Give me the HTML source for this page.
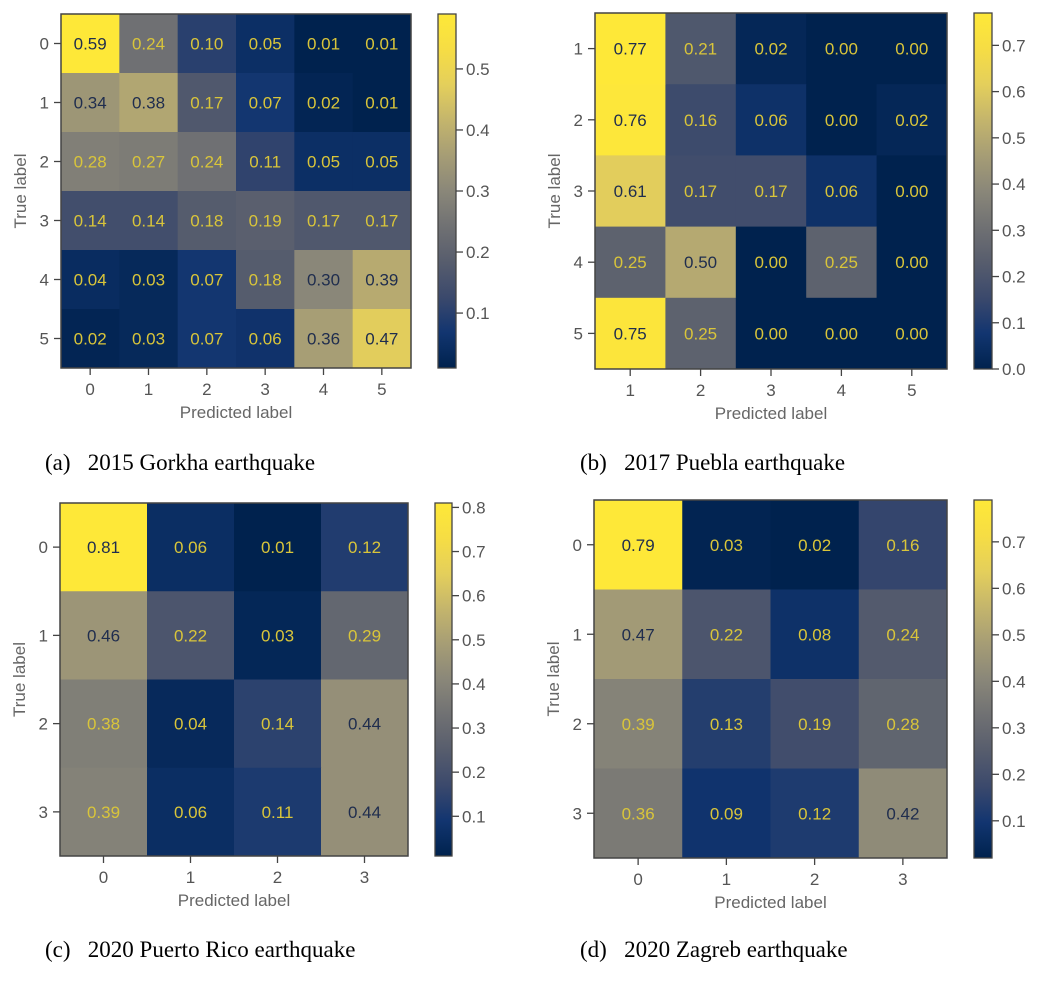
<!DOCTYPE html>
<html><head><meta charset="utf-8">
<style>
body{margin:0;background:#fff;width:1041px;height:976px;overflow:hidden}
svg text{font-family:"Liberation Sans",sans-serif}
.cap{font-family:"Liberation Serif",serif;font-size:23px;fill:#000}
</style></head>
<body>
<svg id="fig" width="1041" height="976" xmlns="http://www.w3.org/2000/svg"></svg>
<script>
// Data arrays
const gorkhaLabels = ["0","1","2","3","4","5"];
const gorkhaValues = [
 [0.59,0.24,0.10,0.05,0.01,0.01],
 [0.34,0.38,0.17,0.07,0.02,0.01],
 [0.28,0.27,0.24,0.11,0.05,0.05],
 [0.14,0.14,0.18,0.19,0.17,0.17],
 [0.04,0.03,0.07,0.18,0.30,0.39],
 [0.02,0.03,0.07,0.06,0.36,0.47]];
const gorkhaTicks = [0.1,0.2,0.3,0.4,0.5];

const pueblaLabels = ["1","2","3","4","5"];
const pueblaValues = [
 [0.77,0.21,0.02,0.00,0.00],
 [0.76,0.16,0.06,0.00,0.02],
 [0.61,0.17,0.17,0.06,0.00],
 [0.25,0.50,0.00,0.25,0.00],
 [0.75,0.25,0.00,0.00,0.00]];
const pueblaTicks = [0.0,0.1,0.2,0.3,0.4,0.5,0.6,0.7];

const puertoLabels = ["0","1","2","3"];
const puertoValues = [
 [0.81,0.06,0.01,0.12],
 [0.46,0.22,0.03,0.29],
 [0.38,0.04,0.14,0.44],
 [0.39,0.06,0.11,0.44]];
const puertoTicks = [0.1,0.2,0.3,0.4,0.5,0.6,0.7,0.8];

const zagrebLabels = ["0","1","2","3"];
const zagrebValues = [
 [0.79,0.03,0.02,0.16],
 [0.47,0.22,0.08,0.24],
 [0.39,0.13,0.19,0.28],
 [0.36,0.09,0.12,0.42]];
const zagrebTicks = [0.1,0.2,0.3,0.4,0.5,0.6,0.7];

const NS="http://www.w3.org/2000/svg";
const svg=document.getElementById('fig');
const stops=["#00224e","#123570","#3b496c","#575d6d","#707173","#8a8779","#a69d75","#c4b56c","#e4cf5b","#f6dd44","#fee838"];
function hx(c){return [1,3,5].map(i=>parseInt(c.substr(i,2),16));}
function cividis(t){t=Math.max(0,Math.min(1,t));const p=t*10,i=Math.min(9,Math.floor(p)),f=p-i;
 const a=hx(stops[i]),b=hx(stops[i+1]);return "rgb("+a.map((v,k)=>Math.round(v+(b[k]-v)*f)).join(",")+")";}
function el(tag,attrs,parent){const e=document.createElementNS(NS,tag);for(const k in attrs)e.setAttribute(k,attrs[k]);(parent||svg).appendChild(e);return e;}

function panel(id,labels,vals,ticks,L,T,R,B,cbL,cbR,capX,capY,cap){
 const g=el('g',{});
 
 
 const n=labels.length;
 const flat=vals.flat();const vmin=Math.min(...flat),vmax=Math.max(...flat);const th=(vmin+vmax)/2;
 const cw=(R-L)/n,ch=(B-T)/n;
 const xS=j=>L+cw*(j+0.5), yS=i=>T+ch*(i+0.5);
 const norm=v=>(v-vmin)/(vmax-vmin);
 for(let i=0;i<n;i++)for(let j=0;j<n;j++){
  const v=vals[i][j];
  const r=el('rect',{x:xS(j)-cw/2,y:yS(i)-ch/2,width:cw+0.5,height:ch+0.5,fill:cividis(norm(v))},g);
  
  
  const t=el('text',{x:xS(j),y:yS(i)+6,'text-anchor':'middle','font-size':'17',fill:v>=th?'#1f2d4e':'#d9c53a'},g);
  
  
  t.textContent=v.toFixed(2);
 }
 const fr=el('rect',{x:L,y:T,width:R-L,height:B-T,fill:'none',stroke:'#444','stroke-width':1.5},g);
 
 
 for(let k=0;k<n;k++){
  el('line',{x1:xS(k),x2:xS(k),y1:B,y2:B+7,stroke:'#444','stroke-width':1.3},g);
  const tx=el('text',{x:xS(k),y:B+27,'text-anchor':'middle','font-size':'17',fill:'#555'},g);
  
  
  tx.textContent=labels[k];
  el('line',{x1:L-7,x2:L,y1:yS(k),y2:yS(k),stroke:'#444','stroke-width':1.3},g);
  const ty=el('text',{x:L-12,y:yS(k)+6,'text-anchor':'end','font-size':'17',fill:'#555'},g);
  
  
  ty.textContent=labels[k];
 }
 const xl=el('text',{x:(L+R)/2,y:B+50,'text-anchor':'middle','font-size':'17',fill:'#666'},g);
 
 
 xl.textContent='Predicted label';
 const yl=el('text',{x:0,y:0,'text-anchor':'middle','font-size':'17',fill:'#666',transform:'translate('+(L-35)+','+((T+B)/2)+') rotate(-90)'},g);
 
 
 yl.textContent='True label';
 const gid='grad-'+id;
 const defs=el('defs',{},g);
 const lg=el('linearGradient',{id:gid,x1:0,y1:1,x2:0,y2:0},defs);
 for(let s=0;s<=20;s++)el('stop',{offset:s/20,'stop-color':cividis(s/20)},lg);
 const cb=el('rect',{x:cbL,y:T,width:cbR-cbL,height:B-T,fill:'url(#'+gid+')',stroke:'#444','stroke-width':1.3},g);
 
 
 const cy=v=>B-(v-vmin)/(vmax-vmin)*(B-T);
 ticks.forEach(v=>{
  el('line',{x1:cbR,x2:cbR+7,y1:cy(v),y2:cy(v),stroke:'#444','stroke-width':1.3},g);
  const t=el('text',{x:cbR+10,y:cy(v)+6,'font-size':'17',fill:'#555'},g);
  
  
  t.textContent=v.toFixed(1);
 });
 const c=el('text',{x:capX,y:capY,class:'cap'},g);
 
 
 c.textContent=cap;
}
panel('gorkha',gorkhaLabels,gorkhaValues,gorkhaTicks,61,14,411,368,438,456,45,470,'(a)\u00a0\u00a0 2015 Gorkha earthquake');
panel('puebla',pueblaLabels,pueblaValues,pueblaTicks,595,13,947,369,974,992,580,470,'(b)\u00a0\u00a0 2017 Puebla earthquake');
panel('puerto-rico',puertoLabels,puertoValues,puertoTicks,60,503,408,856,435,452,45,957,'(c)\u00a0\u00a0 2020 Puerto Rico earthquake');
panel('zagreb',zagrebLabels,zagrebValues,zagrebTicks,594,500,947,858,974,992,580,957,'(d)\u00a0\u00a0 2020 Zagreb earthquake');
</script>
</body></html>
